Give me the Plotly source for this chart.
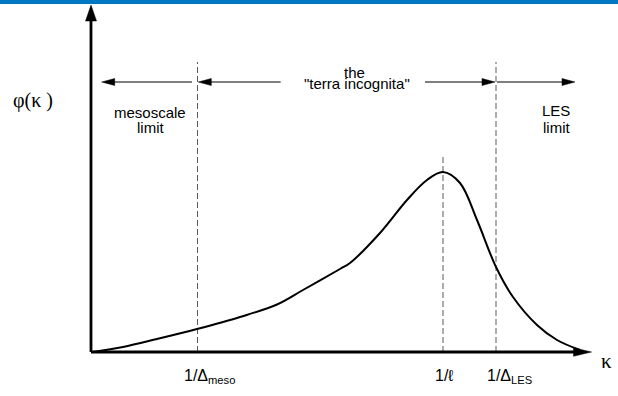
import math
import plotly.graph_objects as go

# ---- data (kappa in arbitrary units, phi(kappa) in arbitrary units) ----
kappa = [0.02, 0.32, 0.66, 1.06, 1.49, 1.86, 2.12, 2.49, 2.59, 2.89, 3.16, 3.36,
         3.52, 3.69, 3.86, 4.05, 4.22, 4.46, 4.66, 4.89]
phi = [0.00, 0.05, 0.13, 0.23, 0.35, 0.475, 0.62, 0.83, 0.89, 1.19, 1.52, 1.72,
       1.80, 1.69, 1.32, 0.85, 0.55, 0.27, 0.12, 0.02]

tick_vals = [1.065, 3.52, 4.05]
tick_text = ["1/Δ<sub>meso</sub>", "1/ℓ", "1/Δ<sub>LES</sub>"]
guide_top = [2.90, 1.95, 2.90]

W, H = 618, 396
X0PX, Y0PX, SCALE = 91, 352, 100.0   # origin pixel and px per unit
xr = [-X0PX / SCALE, (W - X0PX) / SCALE]
yr = [-(H - Y0PX) / SCALE, Y0PX / SCALE]

fig = go.Figure()
fig.add_trace(go.Scatter(x=kappa, y=phi, mode="lines",
                         line=dict(color="black", width=2, shape="spline", smoothing=1.0),
                         hoverinfo="skip", showlegend=False))

shapes = []
# top blue band
shapes.append(dict(type="rect", xref="paper", yref="paper", x0=0, x1=1,
                   y0=1 - 4 / H, y1=1, fillcolor="#0078C1", line=dict(width=0)))


def arrow(x0, y0, x1, y1, hl, hw, lw):
    """Line from (x0,y0) to tip (x1,y1), filled triangular head (sizes in px)."""
    dx, dy = x1 - x0, y1 - y0
    L = math.hypot(dx, dy)
    ux, uy = dx / L, dy / L
    hl_, hw_ = hl / SCALE, hw / SCALE / 2
    bx, by = x1 - ux * hl_, y1 - uy * hl_
    px, py = -uy, ux
    shapes.append(dict(type="line", xref="x", yref="y", x0=x0, y0=y0,
                       x1=bx + ux * 0.02, y1=by + uy * 0.02,
                       line=dict(color="black", width=lw)))
    path = (f"M{x1},{y1} L{bx + px * hw_},{by + py * hw_} "
            f"L{bx - px * hw_},{by - py * hw_} Z")
    shapes.append(dict(type="path", xref="x", yref="y", path=path,
                       fillcolor="black", line=dict(color="black", width=0.5)))


# axes
arrow(0, 0, 0, 3.47, 16, 11, 2.8)
arrow(0, 0, 5.005, 0, 18, 8.5, 2.8)

# regime arrows
ya = 2.70
arrow(1.01, ya, 0.107, ya, 13, 7, 1.2)
arrow(1.897, ya, 1.073, ya, 13, 7, 1.2)
arrow(3.34, ya, 4.04, ya, 13, 7, 1.2)
arrow(4.06, ya, 4.84, ya, 13, 7, 1.2)

# dashed guides
for xv, yt in zip(tick_vals, guide_top):
    shapes.append(dict(type="line", xref="x", yref="y", x0=xv, x1=xv, y0=0, y1=yt,
                       line=dict(color="#5a5a5a", width=1, dash="6px,3px"), layer="below"))

SANS = "Liberation Sans, Arial, sans-serif"
SERIF = "Liberation Serif, Times New Roman, serif"
ann = []


def txt(x, y, t, size=15, font=SANS, **kw):
    d = dict(x=x, y=y, xref="x", yref="y", text=t, showarrow=False,
             font=dict(family=font, size=size, color="black"))
    d.update(kw)
    ann.append(d)


txt(2.63, 2.80, "the")
txt(2.66, 2.685, '"terra incognita"')
txt(0.59, 2.40, "mesoscale")
txt(0.59, 2.25, "limit")
txt(4.65, 2.42, "LES")
txt(4.655, 2.25, "limit")
txt(-0.585, 2.52, "φ(κ )", size=20, font=SERIF)
txt(5.15, -0.09, "κ", size=21, font=SERIF)

label_shift = [-16, -10, -11]
for xv, t, s in zip(tick_vals, tick_text, label_shift):
    txt(xv, -0.13, t, size=16, xanchor="left", yanchor="top", xshift=s)

fig.update_layout(
    width=W, height=H, margin=dict(l=0, r=0, t=0, b=0),
    paper_bgcolor="white", plot_bgcolor="white",
    xaxis=dict(range=xr, visible=False, fixedrange=True),
    yaxis=dict(range=yr, visible=False, fixedrange=True),
    shapes=shapes, annotations=ann, showlegend=False,
)
fig.write_html("out.html",
               config={"displayModeBar": False},
               post_script="document.body.style.margin='0px';")
